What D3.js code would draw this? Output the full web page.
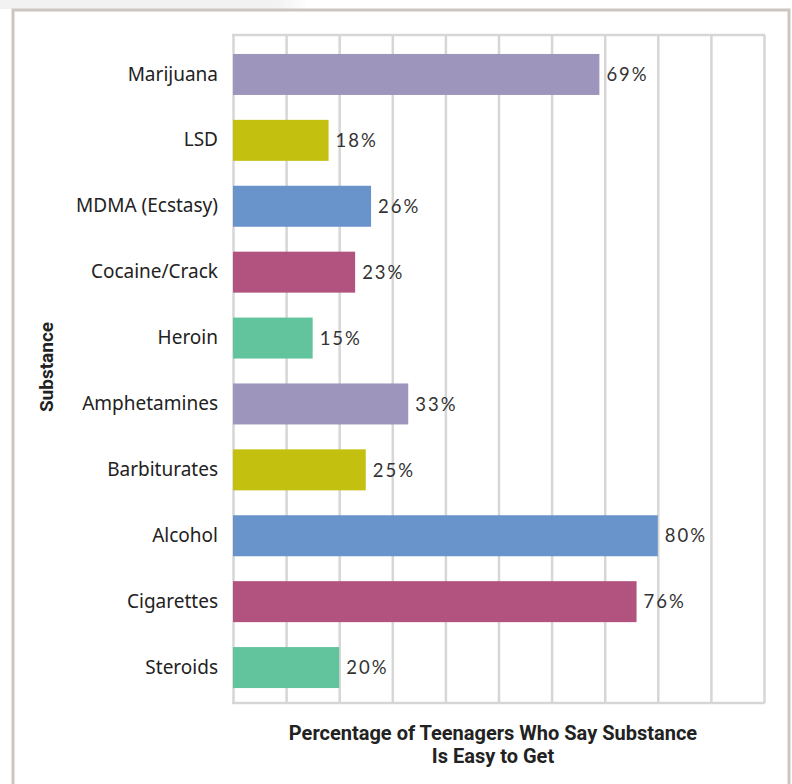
<!DOCTYPE html>
<html>
<head>
<meta charset="utf-8">
<script src="https://cdn.jsdelivr.net/npm/d3@7"></script>
<style>
  html, body { margin: 0; padding: 0; background: #fff; }
  svg { display: block; }
</style>
</head>
<body>
<svg id="chart" width="792" height="784"></svg>
<script>
const categories = ["Marijuana", "LSD", "MDMA (Ecstasy)", "Cocaine/Crack", "Heroin",
  "Amphetamines", "Barbiturates", "Alcohol", "Cigarettes", "Steroids"];
const values = [69, 18, 26, 23, 15, 33, 25, 80, 76, 20];
const barColors = ["#9d95bb", "#c4c00f", "#6893cb", "#b1527f", "#62c49c",
  "#9d95bb", "#c4c00f", "#6893cb", "#b1527f", "#62c49c"];
const xTicks = [0, 10, 20, 30, 40, 50, 60, 70, 80, 90, 100];
const xTitle = ["Percentage of Teenagers Who Say Substance", "Is Easy to Get"];
const yTitle = "Substance";

const svg = d3.select("#chart");

// page decoration: faint shade above frame
const defs = svg.append("defs");
const grad = defs.append("linearGradient").attr("id", "shade").attr("x1", 0).attr("x2", 1);
grad.append("stop").attr("offset", "0").attr("stop-color", "#f2f2f2");
grad.append("stop").attr("offset", "0.9").attr("stop-color", "#f2f2f2");
grad.append("stop").attr("offset", "1").attr("stop-color", "#ffffff");
svg.append("rect").attr("x", 0).attr("y", 0).attr("width", 308).attr("height", 9).attr("fill", "url(#shade)");

// outer frame
svg.append("rect").attr("x", 13).attr("y", 10).attr("width", 776).attr("height", 800)
  .attr("fill", "#fff").attr("stroke", "#cdc6c0").attr("stroke-width", 3);

const plot = { left: 233, right: 764, top: 35, bottom: 703 };

const x = d3.scaleLinear().domain([0, 100]).range([plot.left, plot.right]);
const y = d3.scaleBand().domain(categories).range([41.5, 700.5])
  .paddingInner(0.378).paddingOuter(0.189);

// grid
const gridG = svg.append("g")
  .attr("transform", `translate(0,${plot.bottom})`)
  .call(d3.axisBottom(x).tickValues(xTicks).tickSize(-(plot.bottom - plot.top)).tickFormat(""));
gridG.select(".domain").remove();
gridG.selectAll("line").attr("stroke", "#d6d6d6").attr("stroke-width", 2.5);

svg.append("line").attr("x1", plot.left - 1).attr("x2", plot.right + 1)
  .attr("y1", plot.top).attr("y2", plot.top).attr("stroke", "#d6d6d6").attr("stroke-width", 2.5);
svg.append("line").attr("x1", plot.left - 1).attr("x2", plot.right + 1)
  .attr("y1", plot.bottom).attr("y2", plot.bottom).attr("stroke", "#d6d6d6").attr("stroke-width", 2.5);

// bars
svg.append("g").selectAll("rect").data(categories).join("rect")
  .attr("x", x(0))
  .attr("y", d => y(d))
  .attr("width", (d, i) => x(values[i]) - x(0))
  .attr("height", y.bandwidth())
  .attr("fill", (d, i) => barColors[i]);

// value labels
svg.append("g").selectAll("text").data(categories).join("text")
  .attr("x", (d, i) => x(values[i]) + 7)
  .attr("y", d => y(d) + y.bandwidth() / 2)
  .attr("dy", "0.36em")
  .attr("font-family", "Lato, 'Open Sans', sans-serif")
  .attr("font-size", 18.5)
  .attr("letter-spacing", "2px")
  .attr("fill", "#333")
  .text((d, i) => values[i] + "%");

// category axis
const yAxis = svg.append("g")
  .attr("transform", `translate(${plot.left},0)`)
  .call(d3.axisLeft(y).tickSize(0).tickPadding(15));
yAxis.select(".domain").remove();
yAxis.selectAll("text")
  .attr("font-family", "'Noto Sans', sans-serif")
  .attr("font-size", 19)
  .attr("fill", "#222");

// y title
svg.append("text")
  .attr("transform", "translate(53,367) rotate(-90)")
  .attr("text-anchor", "middle")
  .attr("font-family", "Roboto, sans-serif")
  .attr("font-weight", "bold")
  .attr("font-size", 19)
  .attr("fill", "#222")
  .text(yTitle);

// x title
svg.append("text")
  .attr("text-anchor", "middle")
  .attr("font-family", "Roboto, sans-serif")
  .attr("font-weight", "bold")
  .attr("font-size", 20)
  .attr("fill", "#222")
  .selectAll("tspan").data(xTitle).join("tspan")
  .attr("x", 493)
  .attr("y", (d, i) => 740 + i * 23)
  .text(d => d);
</script>
</body>
</html>
